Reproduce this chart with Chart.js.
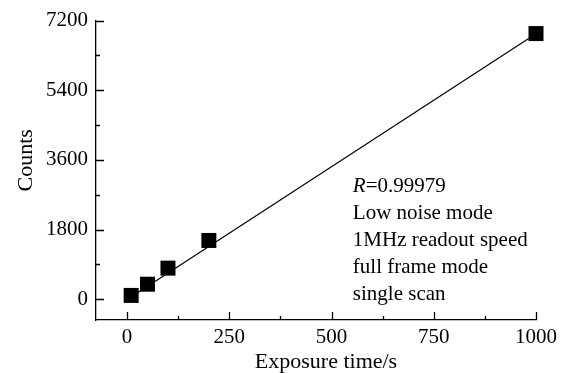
<!DOCTYPE html>
<html>
<head>
<meta charset="utf-8">
<script src="https://cdn.jsdelivr.net/npm/chart.js@4.4.0/dist/chart.umd.min.js"></script>
<style>
    html, body { margin: 0; padding: 0; background: #fff; }
</style>
</head>
<body>
<canvas id="chart" width="569" height="373"></canvas>
<script>
// Dati
const exposureTimes = [10, 50, 100, 200, 1000];
const counts = [100, 390, 805, 1520, 6865];
const fitTimes = [10, 1000];
const fitCounts = [60, 6860];
const xTicks = [0, 250, 500, 750, 1000];
const xMinorTicks = [125, 375, 625, 875];
const yTicks = [0, 1800, 3600, 5400, 7200];
const yMinorTicks = [900, 2700, 4500, 6300];
const noteLines = ['Low noise mode', '1MHz readout speed', 'full frame mode', 'single scan'];

const FONT = "'Liberation Serif', 'Times New Roman', serif";
const FONT_SIZE = 21;
const TITLE_SIZE = 22;

// Tacche rivolte verso l'interno (major + minor)
const inwardTicks = {
    id: 'inwardTicks',
    afterDraw(chart) {
        const { ctx, chartArea, scales: { x, y } } = chart;
        ctx.save();
        ctx.strokeStyle = '#000';
        ctx.lineWidth = 1.3;
        ctx.beginPath();
        xTicks.forEach(v => {
            const px = Math.round(x.getPixelForValue(v)) + 0.5;
            ctx.moveTo(px, chartArea.bottom);
            ctx.lineTo(px, chartArea.bottom - 8);
        });
        xMinorTicks.forEach(v => {
            const px = Math.round(x.getPixelForValue(v)) + 0.5;
            ctx.moveTo(px, chartArea.bottom);
            ctx.lineTo(px, chartArea.bottom - 4);
        });
        yTicks.forEach(v => {
            const py = Math.round(y.getPixelForValue(v)) + 0.5;
            ctx.moveTo(chartArea.left, py);
            ctx.lineTo(chartArea.left + 8, py);
        });
        yMinorTicks.forEach(v => {
            const py = Math.round(y.getPixelForValue(v)) + 0.5;
            ctx.moveTo(chartArea.left, py);
            ctx.lineTo(chartArea.left + 4, py);
        });
        ctx.stroke();
        ctx.restore();
    }
};

// Titoli degli assi e testo dell'annotazione
const textLayer = {
    id: 'textLayer',
    afterDraw(chart) {
        const { ctx, chartArea, scales: { x, y } } = chart;
        ctx.save();
        ctx.fillStyle = '#000';

        // titolo asse x
        ctx.font = TITLE_SIZE + 'px ' + FONT;
        ctx.textAlign = 'center';
        ctx.textBaseline = 'alphabetic';
        ctx.fillText('Exposure time/s', (chartArea.left + chartArea.right) / 2 + 10, chartArea.bottom + 48);

        // titolo asse y
        ctx.save();
        ctx.translate(32, (chartArea.top + chartArea.bottom) / 2 - 10);
        ctx.rotate(-Math.PI / 2);
        ctx.fillText('Counts', 0, 0);
        ctx.restore();

        // annotazione
        const left = x.getPixelForValue(552);
        const top = y.getPixelForValue(2927);
        ctx.textBaseline = 'middle';
        ctx.textAlign = 'left';
        ctx.font = 'italic ' + FONT_SIZE + 'px ' + FONT;
        ctx.fillText('R', left, top);
        const w = ctx.measureText('R').width;
        ctx.font = FONT_SIZE + 'px ' + FONT;
        ctx.fillText('=0.99979', left + w, top);
        noteLines.forEach((line, i) => {
            ctx.fillText(line, left, top + 27 * (i + 1));
        });
        ctx.restore();
    }
};

const ctx = document.getElementById('chart').getContext('2d');
new Chart(ctx, {
    type: 'scatter',
    data: {
        datasets: [
            {
                label: 'fit',
                data: fitTimes.map((t, i) => ({ x: t, y: fitCounts[i] })),
                showLine: true,
                borderColor: '#000',
                borderWidth: 1.2,
                pointRadius: 0,
                clip: false,
                order: 2
            },
            {
                label: 'Counts',
                data: exposureTimes.map((t, i) => ({ x: t, y: counts[i] })),
                pointStyle: 'rect',
                pointRadius: 10.6,
                pointBorderWidth: 0,
                backgroundColor: '#000',
                borderColor: '#000',
                clip: false,
                order: 1
            }
        ]
    },
    options: {
        responsive: false,
        animation: false,
        layout: { padding: { left: 0, right: 33, top: 20, bottom: 0 } },
        plugins: {
            legend: { display: false },
            tooltip: { enabled: false }
        },
        scales: {
            x: {
                type: 'linear',
                min: -76,
                max: 1000,
                afterBuildTicks: s => { s.ticks = xTicks.map(v => ({ value: v })); },
                afterFit: s => { s.height = 53; },
                grid: { display: false, drawTicks: false },
                border: { display: true, color: '#000', width: 1.3 },
                ticks: {
                    color: '#000',
                    padding: 5,
                    maxRotation: 0,
                    callback: v => String(v),
                    font: { family: FONT, size: FONT_SIZE }
                }
            },
            y: {
                type: 'linear',
                min: -535,
                max: 7200,
                afterBuildTicks: s => { s.ticks = yTicks.map(v => ({ value: v })); },
                afterFit: s => { s.width = 96; },
                grid: { display: false, drawTicks: false },
                border: { display: true, color: '#000', width: 1.3 },
                ticks: {
                    color: '#000',
                    padding: 8,
                    callback: v => String(v),
                    font: { family: FONT, size: FONT_SIZE }
                }
            }
        }
    },
    plugins: [inwardTicks, textLayer]
});
</script>
</body>
</html>
